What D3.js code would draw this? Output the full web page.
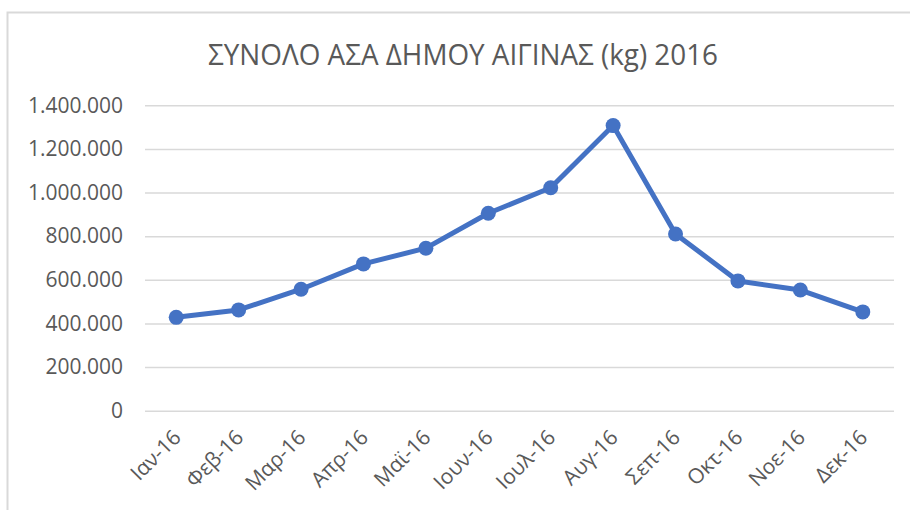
<!DOCTYPE html>
<html>
<head>
<meta charset="utf-8">
<script src="https://cdn.jsdelivr.net/npm/d3@7"></script>
<style>
  body { margin: 0; background: #fff; }
  text { font-family: "Open Sans", sans-serif; fill: #595959; }
</style>
</head>
<body>
<div id="chart"></div>
<script>
// data
let months = ["Ιαν-16", "Φεβ-16", "Μαρ-16", "Απρ-16", "Μαϊ-16", "Ιουν-16",
              "Ιουλ-16", "Αυγ-16", "Σεπ-16", "Οκτ-16", "Νοε-16", "Δεκ-16"];
let totals = [428000, 462000, 557000, 673000, 745000, 905000,
              1022000, 1307000, 810000, 595000, 553000, 453000];
let yTicks = [0, 200000, 400000, 600000, 800000, 1000000, 1200000, 1400000];
let chartTitle = "ΣΥΝΟΛΟ ΑΣΑ ΔΗΜΟΥ ΑΙΓΙΝΑΣ (kg) 2016";

let width = 910;
let height = 510;
let plotLeft = 145, plotRight = 894, plotTop = 105.3, plotBottom = 410.7;

let svg = d3.select("#chart")
    .append("svg")
    .attr("width", width)
    .attr("height", height);

// chart frame (cut off on the right and bottom in the original)
svg.append("path")
    .attr("d", "M7.5," + height + " V12.5 H" + width)
    .attr("fill", "none")
    .attr("stroke", "#d9d9d9")
    .attr("stroke-width", 2);

/* Scales */
let xScale = d3.scaleBand()
    .domain(months)
    .range([plotLeft, plotRight]);

let yScale = d3.scaleLinear()
    .domain([0, 1400000])
    .range([plotBottom, plotTop]);

let fmt = d3.formatLocale({ decimal: ",", thousands: ".", grouping: [3], currency: ["", "€"] }).format(",d");

/* Y axis with gridlines */
let yAxis = d3.axisLeft(yScale)
    .tickValues(yTicks)
    .tickFormat(fmt)
    .tickSize(-(plotRight - plotLeft))
    .tickPadding(22);

svg.append("g")
    .attr("class", "axis y")
    .attr("transform", "translate(" + plotLeft + ",0)")
    .call(yAxis)
    .call(g => g.select(".domain").remove())
    .call(g => g.selectAll("line").attr("stroke", "#d9d9d9").attr("stroke-width", 1.5))
    .call(g => g.selectAll("text").attr("font-size", 21).attr("fill", "#595959")
        .style("font-family", "'Open Sans', sans-serif"));

/* X axis */
let xAxis = d3.axisBottom(xScale).tickSize(0).tickPadding(0);

svg.append("g")
    .attr("class", "axis x")
    .attr("transform", "translate(0," + plotBottom + ")")
    .call(xAxis)
    .call(g => g.select(".domain").remove())
    .call(g => g.selectAll("text")
        .attr("font-size", 21)
        .attr("fill", "#595959")
        .style("font-family", "'Open Sans', sans-serif")
        .attr("text-anchor", "end")
        .attr("dy", 0)
        .attr("transform", "translate(6,28) rotate(-45)"));

/* Line + markers */
let line = d3.line()
    .x((d, i) => xScale(months[i]) + xScale.bandwidth() / 2)
    .y(d => yScale(d));

svg.append("path")
    .datum(totals)
    .attr("d", line)
    .attr("fill", "none")
    .attr("stroke", "#4472c4")
    .attr("stroke-width", 5)
    .attr("stroke-linejoin", "round");

svg.selectAll("circle.pt")
    .data(totals)
    .enter()
    .append("circle")
    .attr("class", "pt")
    .attr("cx", (d, i) => xScale(months[i]) + xScale.bandwidth() / 2)
    .attr("cy", d => yScale(d))
    .attr("r", 7.5)
    .attr("fill", "#4472c4");

/* Title */
svg.append("text")
    .attr("x", 463)
    .attr("y", 65)
    .attr("text-anchor", "middle")
    .attr("font-size", 29)
    .attr("textLength", 510)
    .attr("lengthAdjust", "spacingAndGlyphs")
    .text(chartTitle);
</script>
</body>
</html>
